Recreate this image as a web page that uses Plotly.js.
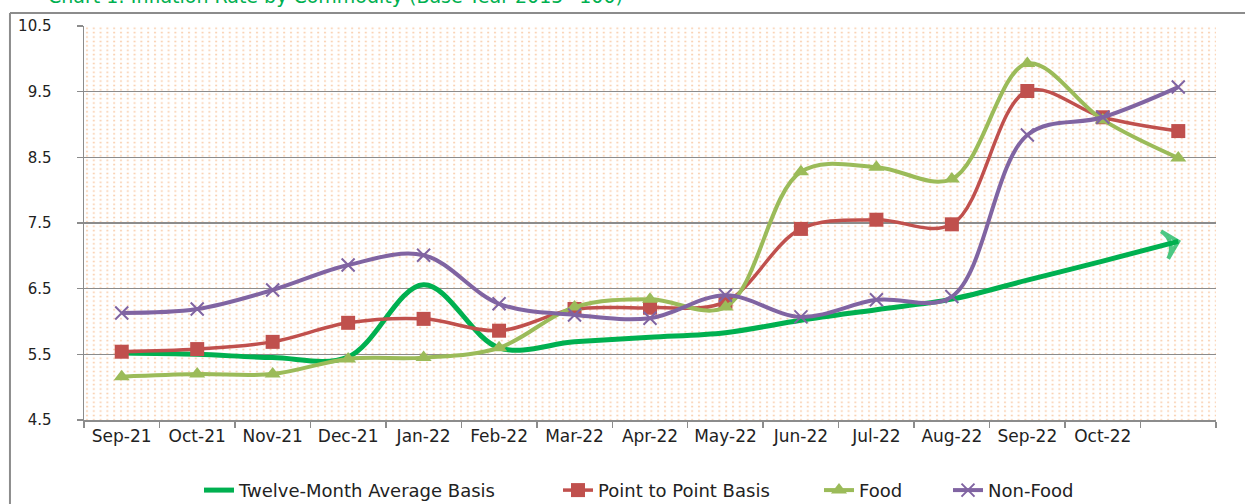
<!DOCTYPE html>
<html><head><meta charset="utf-8">
<script src="https://cdn.plot.ly/plotly-3.0.1.min.js"></script>
<style>html,body{margin:0;padding:0;background:#fff}#chart{width:1245px;height:504px}</style>
</head><body><div id="chart"></div>
<script>
// Category labels (last period has no printed label)
const months = ['Sep-21','Oct-21','Nov-21','Dec-21','Jan-22','Feb-22','Mar-22','Apr-22','May-22','Jun-22','Jul-22','Aug-22','Sep-22','Oct-22',' '];
// Series values (percent)
const twelveMonthAvg = [5.52,5.50,5.45,5.46,6.56,5.60,5.69,5.76,5.83,6.02,6.18,6.34,6.63,6.92,7.22];
const pointToPoint   = [5.54,5.58,5.69,5.98,6.04,5.86,6.19,6.21,6.30,7.41,7.55,7.48,9.51,9.11,8.90];
const food           = [5.16,5.20,5.20,5.43,5.45,5.60,6.22,6.34,6.22,8.28,8.35,8.17,9.93,9.07,8.49];
const nonFood        = [6.13,6.19,6.48,6.86,7.01,6.27,6.10,6.05,6.40,6.07,6.33,6.38,8.84,9.11,9.57];
const yTicks = [4.5,5.5,6.5,7.5,8.5,9.5,10.5];
const seriesNames = ['Twelve-Month Average Basis','Point to Point Basis','Food','Non-Food'];

const GREEN='#00B050', RED='#C0504D', LGREEN='#9BBB59', PURPLE='#8064A2', GRID='#8C8C8C';
const FAM = 'DejaVu Sans, sans-serif';
const XFONT = {family:FAM, size:17, color:'#222'};
const YFONT = {family:FAM, size:15, color:'#222'};

const n = months.length;
const traces = [
  {x:months, y:twelveMonthAvg, name:seriesNames[0], mode:'lines', legend:'legend',
   line:{color:GREEN, width:5, shape:'spline'}},
  {x:months.slice(n-2), y:twelveMonthAvg.slice(n-2), mode:'markers', showlegend:false, hoverinfo:'skip',
   marker:{symbol:'arrow-wide-open', angleref:'previous', size:[0,20], color:GREEN, line:{color:GREEN, width:4}}},
  {x:months, y:pointToPoint, name:seriesNames[1], mode:'lines+markers', legend:'legend2',
   line:{color:RED, width:3.5, shape:'spline'}, marker:{symbol:'square', size:14, color:RED}},
  {x:months, y:food, name:seriesNames[2], mode:'lines+markers', legend:'legend3',
   line:{color:LGREEN, width:4, shape:'spline'}, marker:{symbol:'triangle-up', size:14, color:LGREEN}},
  {x:months, y:nonFood, name:seriesNames[3], mode:'lines+markers', legend:'legend4',
   line:{color:PURPLE, width:4, shape:'spline'}, marker:{symbol:'x-thin-open', size:13, color:PURPLE, line:{color:PURPLE, width:2}}}
];

// dotted background pattern
const svg = '<svg xmlns="http://www.w3.org/2000/svg" width="1132" height="394" viewBox="0 0 1132 394" preserveAspectRatio="none">'+
  '<defs><pattern id="p" patternUnits="userSpaceOnUse" width="6.8" height="4.4">'+
  '<rect x="2" y="1.5" width="2" height="1.5" fill="#F9CFAE"/></pattern></defs>'+
  '<rect width="1132" height="394" fill="url(#p)"/></svg>';
const bgSrc = 'data:image/svg+xml;charset=utf-8,' + encodeURIComponent(svg);

function leg(x){ return {x:x, y:0.027, xref:'container', yref:'container', xanchor:'left', yanchor:'middle', orientation:'h',
  bgcolor:'rgba(0,0,0,0)', font:{family:FAM, size:18, color:'#222'}, itemwidth:30, tracegroupgap:0}; }

const layout = {
  width:1245, height:504,
  margin:{l:84, r:29, t:26, b:84, autoexpand:false},
  paper_bgcolor:'#fff', plot_bgcolor:'#fff',
  font:XFONT,
  showlegend:true,
  xaxis:{type:'category', categoryorder:'array', categoryarray:months, tickson:'boundaries',
    ticks:'outside', ticklen:6, tickcolor:GRID, tickwidth:1.5, showline:true, linecolor:GRID, linewidth:1.5,
    showgrid:false, tickfont:XFONT, fixedrange:true, range:[-0.5, n-0.5]},
  yaxis:{range:[4.5,10.5], tickvals:yTicks, ticktext:yTicks.map(v=>v.toFixed(1)), ticks:'outside', ticklen:6,
    tickcolor:GRID, tickwidth:1.5, showline:true, linecolor:GRID, linewidth:1.5, showgrid:true, gridcolor:GRID,
    gridwidth:1.5, zeroline:false, tickfont:YFONT, ticklabelstandoff:22},
  legend:leg(199/1245), legend2:leg(558/1245), legend3:leg(819/1245), legend4:leg(948/1245),
  images:[{source:bgSrc, xref:'paper', yref:'paper', x:0, y:1, sizex:1, sizey:1, sizing:'stretch', layer:'below', xanchor:'left', yanchor:'top'}],
  shapes:[
    {type:'line', xref:'paper', yref:'paper', x0:-0.0654, x1:-0.0654, y0:1.033, y1:-0.4, line:{color:'#8C8C8C', width:2}},
    {type:'line', xref:'paper', yref:'paper', x0:-0.0654, x1:1.1, y0:1.033, y1:1.033, line:{color:'#8C8C8C', width:2}}
  ],
  annotations:[
    {xref:'paper', yref:'paper', x:0.478, y:1.043, xanchor:'right', yanchor:'bottom', showarrow:false,
     text:'Chart 1: Inflation Rate by Commodity (Base Year 2015=100)', font:{family:FAM, size:19, color:GREEN}}
  ]
};
Plotly.newPlot('chart', traces, layout, {displayModeBar:false, staticPlot:true});
</script></body></html>
